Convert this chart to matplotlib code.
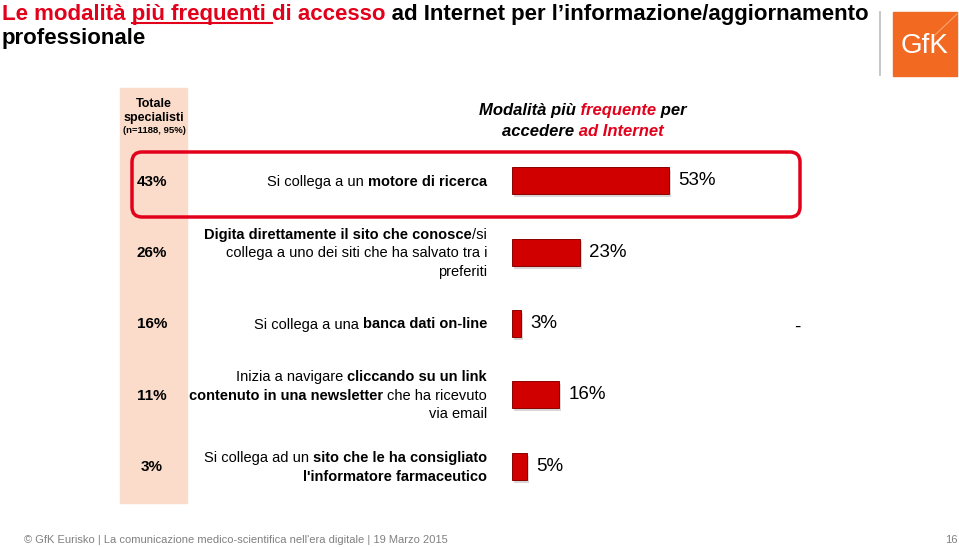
import matplotlib
matplotlib.use("Agg")
import matplotlib.pyplot as plt
from matplotlib.patches import FancyBboxPatch, Rectangle
from matplotlib.lines import Line2D
from matplotlib.transforms import Affine2D, Bbox, TransformedBbox

plt.rcParams["font.family"] = ["Liberation Sans", "DejaVu Sans"]

W, H = 959, 547
RED = "#E2001A"
BAR_RED = "#D00000"
PEACH = "#FBDCCB"
GREY = "#808080"

# data
total_pct = ["43%", "26%", "16%", "11%", "3%"]
freq_values = [53, 23, 3, 16, 5]
freq_labels = ["53%", "23%", "3%", "16%", "5%"]
mode_labels = [
    [[("Si collega a un ", False), ("motore di ricerca", True)]],
    [[("Digita direttamente il sito che conosce", True), ("/si", False)],
     [("collega a uno dei siti che ha salvato tra i", False)],
     [("preferiti", False)]],
    [[("Si collega a una ", False), ("banca dati on-line", True)]],
    [[("Inizia a navigare ", False), ("cliccando su un link", True)],
     [("contenuto in una newsletter", True), (" che ha ricevuto", False)],
     [("via email", False)]],
    [[("Si collega ad un ", False), ("sito che le ha consigliato", True)],
     [("l'informatore farmaceutico", True)]],
]
missing_row = 2  # row with "-" in the comparison column

fig = plt.figure(figsize=(W / 100, H / 100), dpi=100)
fig.patch.set_facecolor("white")

# pixel coordinates, origin at the top left
pix = Affine2D().scale(1 / W, -1 / H).translate(0, 1) + fig.transFigure
renderer = fig.canvas.get_renderer()


def ink_w(s, **kw):
    t = fig.text(0, 0, s, **kw)
    w = t.get_window_extent(renderer).width
    t.remove()
    return w


def rich_line(x, y, segs, size, ha="right"):
    # segs: (text, bold); pieces are placed by the right edge of their ink
    props = [dict(fontsize=size, fontweight="bold" if b else "normal")
             for s, b in segs]
    adv = [ink_w("|" + s + "|", **kw) - ink_w("||", **kw)
           for (s, b), kw in zip(segs, props)]
    cur = x - sum(adv) if ha == "right" else x
    for (s, b), kw, a in zip(segs, props, adv):
        bar = ink_w("|", **kw)
        rsb = (ink_w("||", **kw) - 2 * bar) / 2
        right = cur + ink_w("|" + s.rstrip(" "), **kw) - bar - rsb
        fig.text(right, y, s.strip(" "), transform=pix, ha="right",
                 va="baseline", **kw)
        cur += a


def colored_line(x, y, segs, ha="left", **kw):
    # same font for the whole line, only the colour changes: draw the full
    # string once per segment, clipped to that segment's x range
    full = "".join(s for s, c in segs)
    left = x - ink_w(full, **kw) / 2 if ha == "center" else x
    cuts = [left - 20]
    pos = ""
    for s, c in segs[:-1]:
        pos += s
        cuts.append(left + ink_w(pos.rstrip(" "), **kw) + 2)
    cuts.append(left + ink_w(full, **kw) + 20)
    for (s, c), a, b in zip(segs, cuts[:-1], cuts[1:]):
        t = fig.text(left, y, full, transform=pix, ha="left", va="baseline",
                     color=c, **kw)
        t.set_clip_box(TransformedBbox(Bbox([[a, y - 40], [b, y + 20]]), pix))
    return left


# title
title_kw = dict(fontsize=16, fontweight="bold")
left = colored_line(2, 20, [("Le modalità più frequenti di accesso", RED),
                            (" ad Internet per l’informazione/aggiornamento", "black")],
                    **title_kw)
space = ink_w("a a", **title_kw) - ink_w("aa", **title_kw)
u0 = left + ink_w("Le modalità", **title_kw) + space
u1 = left + ink_w("Le modalità più frequenti", **title_kw) + space
fig.add_artist(Line2D([u0, u1], [23, 23], transform=pix, color=RED, lw=1.5))
fig.text(2, 44, "professionale", transform=pix, va="baseline", **title_kw)

# logo
fig.add_artist(Line2D([880, 880], [12, 75], transform=pix, color="#BBBBBB", lw=1.2))
fig.add_artist(Rectangle((893, 12), 64, 64, transform=pix, color="#F26A21"))
fig.add_artist(Line2D([935, 957], [35, 14], transform=pix, color="#F9A46B", lw=0.8))
fig.text(925, 46, "GfK", transform=pix, fontsize=20, color="white",
         ha="center", va="center")

# peach column and header
fig.add_artist(Rectangle((120, 88), 67, 415, transform=pix, color=PEACH, zorder=0.5))
fig.text(154, 107, "Totale", transform=pix, fontsize=9, fontweight="bold",
         ha="center", va="baseline")
fig.text(154, 121, "specialisti", transform=pix, fontsize=9, fontweight="bold",
         ha="center", va="baseline")
fig.text(154, 133, "(n=1188, 95%)", transform=pix, fontsize=6.8, fontweight="bold",
         ha="center", va="baseline")

head_kw = dict(fontsize=12, fontweight="bold", fontstyle="italic")
colored_line(583, 115, [("Modalità più ", "black"), ("frequente", RED),
                        (" per", "black")], ha="center", **head_kw)
colored_line(583, 136, [("accedere ", "black"), ("ad Internet", RED)],
             ha="center", **head_kw)

# bars
ax = fig.add_axes([512 / W, 1 - 502 / H, 300 / W, 357 / H])
ax.set_zorder(2)
ax.patch.set_alpha(0)
ypos = list(range(len(freq_values)))
# soft drop shadow, then the bars
ax.barh([y + 0.04 for y in ypos], freq_values, height=0.38, left=0.6,
        color="#B0B0B0", alpha=0.5, linewidth=0)
ax.barh(ypos, freq_values, height=0.38, color=BAR_RED, edgecolor="#8E0000",
        linewidth=0.7)
for i, (v, lab) in enumerate(zip(freq_values, freq_labels)):
    ax.text(v + 9 / 2.96, i, lab, va="center", ha="left", fontsize=13.5)
ax.text(96.3, missing_row + 0.06, "-", va="center", ha="center", fontsize=13.5)
ax.set_xlim(0, 300 / 2.96)
ax.set_ylim(len(freq_values) - 0.5, -0.5)
ax.axis("off")

# row labels
fig.canvas.draw()
for i, (pct, lines) in enumerate(zip(total_pct, mode_labels)):
    yc = H - ax.transData.transform((0, i))[1] * 100 / fig.dpi
    fig.text(152, yc + 5, pct, transform=pix, fontsize=11, fontweight="bold",
             ha="center", va="baseline")
    n = len(lines)
    for k, line in enumerate(lines):
        yb = yc - (n - 1) / 2 * 18.5 + k * 18.5 + 5
        rich_line(487, yb, line, 10.5)

# highlight frame
fig.add_artist(FancyBboxPatch((132, 152), 668, 65, transform=pix,
                              boxstyle="round,pad=0,rounding_size=10",
                              fill=False, edgecolor=RED, lw=2.5, zorder=3))

# footer
footer = "© GfK Eurisko | La comunicazione medico-scientifica nell'era digitale | 19 Marzo 2015"
fig.text(24, 543, footer, transform=pix, fontsize=8, color=GREY, va="baseline")
fig.text(958, 543, "16", transform=pix, fontsize=8, color=GREY, va="baseline",
         ha="right")

fig.savefig("out.png", dpi=100)
